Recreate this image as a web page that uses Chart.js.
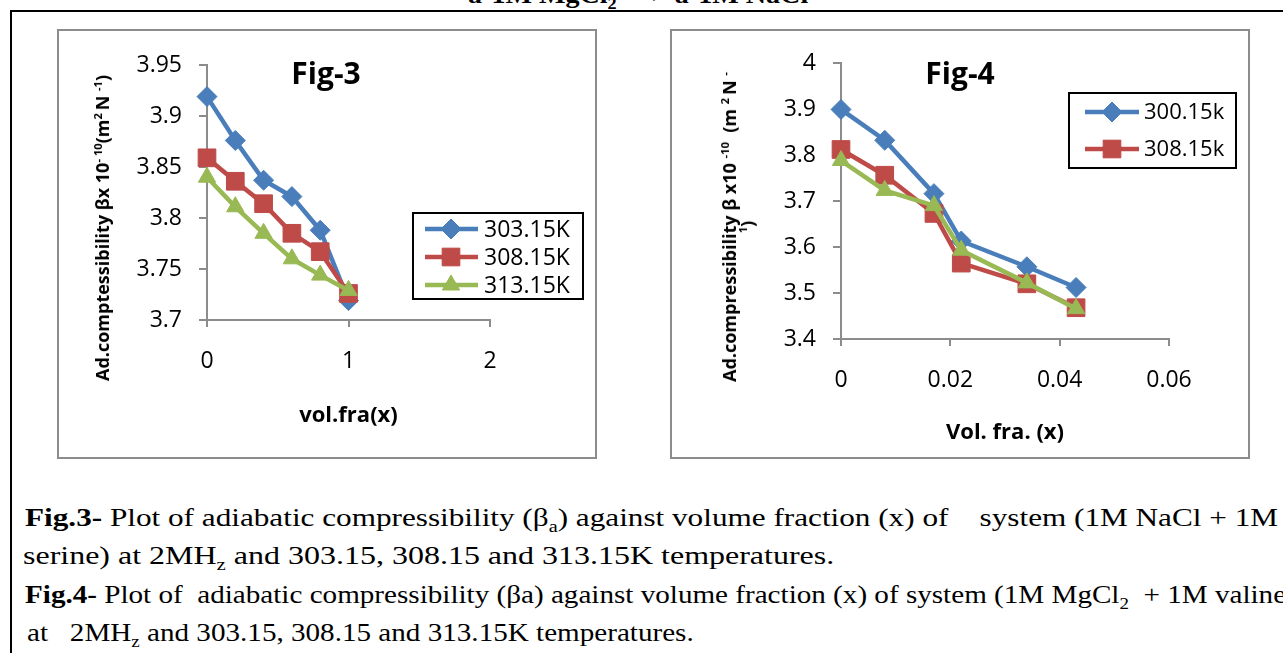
<!DOCTYPE html>
<html><head><meta charset="utf-8">
<script src="https://cdn.jsdelivr.net/npm/chart.js@4.4.1/dist/chart.umd.min.js"></script>
<style>
html,body{margin:0;padding:0;background:#fff;}
body{width:1283px;height:653px;overflow:hidden;position:relative;font-family:'Open Sans',sans-serif;}
.abs{position:absolute;}
#frame{left:10px;top:10px;width:1400px;height:700px;border-left:2px solid #000;border-top:2px solid #000;}
.box{border:2px solid #8c8c8c;box-sizing:border-box;}
#box3{left:57px;top:29px;width:540px;height:430px;}
#box4{left:670px;top:29px;width:580px;height:430px;}
#c3{left:59px;top:31px;}
#c4{left:672px;top:31px;}
.fig{font-family:'Open Sans';font-weight:bold;font-size:30px;line-height:30px;white-space:nowrap;transform:translateX(-50%);color:#000;z-index:3;}
.ytitle{font-family:'Open Sans';font-weight:bold;font-size:18px;line-height:18px;white-space:pre;text-align:center;transform:translate(-50%,-50%) rotate(-90deg);color:#000;z-index:3;}
.ytitle sup{font-size:0.62em;vertical-align:super;line-height:0;}
.cap{font-family:'Liberation Serif','Times New Roman',serif;font-size:26px;line-height:26px;white-space:pre;transform-origin:0 0;color:#000;}
.cap sub{font-size:0.65em;vertical-align:sub;line-height:0;}
</style>
</head>
<body>
<div id="frame" class="abs"></div>
<div class="abs cap" style="left:468px;top:-18px;font-weight:bold;transform:scaleX(1.08);">a-1M MgCl<sub>2</sub> —&gt; a-1M NaCl</div>
<div id="box3" class="abs box"></div>
<div id="box4" class="abs box"></div>
<canvas id="c3" class="abs" width="536" height="426"></canvas>
<canvas id="c4" class="abs" width="576" height="426"></canvas>
<div class="abs fig" style="left:326px;top:58px;">Fig-3</div>
<div class="abs fig" style="left:960px;top:58px;">Fig-4</div>
<div class="abs ytitle" style="left:102px;top:228px;">Ad.comptessibility βx 10<sup>- 10</sup>(m<sup>2 </sup>N <sup>-1</sup>)</div>
<div class="abs ytitle" style="left:738px;top:227px;">Ad.compressibility β x10 <sup>-10</sup>  (m <sup>2 </sup>N <sup>-</sup>
<sup>1</sup>)</div>
<div class="abs cap" style="left:25px;top:505px;transform:scaleX(1.2);"><b>Fig.3-</b> Plot of adiabatic compressibility (β<sub>a</sub>) against volume fraction (x) of    system (1M NaCl + 1M</div>
<div class="abs cap" style="left:23px;top:543px;transform:scaleX(1.23);">serine) at 2MH<sub>z</sub> and 303.15, 308.15 and 313.15K temperatures.</div>
<div class="abs cap" style="left:25px;top:582px;transform:scaleX(1.12);"><b>Fig.4-</b> Plot of  adiabatic compressibility (βa) against volume fraction (x) of system (1M MgCl<sub>2</sub>  + 1M valine)</div>
<div class="abs cap" style="left:27px;top:620px;transform:scaleX(1.12);">at   2MH<sub>z</sub> and 303.15, 308.15 and 313.15K temperatures.</div>

<script>
// ---------- Fig-3 data ----------
const volFrac3 = [0, 0.2, 0.4, 0.6, 0.8, 1];
const beta3_303 = [3.919, 3.876, 3.837, 3.821, 3.788, 3.719];
const beta3_308 = [3.859, 3.836, 3.814, 3.785, 3.767, 3.726];
const beta3_313 = [3.840, 3.811, 3.785, 3.760, 3.744, 3.729];
const labels3 = ['303.15K', '308.15K', '313.15K'];
const xTickVals3 = [0, 1, 2];
const xTickLabels3 = ['0', '1', '2'];
const yTickVals3 = [3.7, 3.75, 3.8, 3.85, 3.9, 3.95];
const yTickLabels3 = ['3.7', '3.75', '3.8', '3.85', '3.9', '3.95'];
const xTitle3 = 'vol.fra(x)';

// ---------- Fig-4 data ----------
const volFrac4 = [0, 0.008, 0.017, 0.022, 0.034, 0.043];
const beta4_300 = [3.899, 3.832, 3.716, 3.613, 3.557, 3.512];
const beta4_308 = [3.812, 3.756, 3.673, 3.565, 3.520, 3.468];
const beta4_313 = [3.788, 3.723, 3.690, 3.593, 3.522, 3.466];
const labels4 = ['300.15k', '308.15k', '313.15k'];
const xTickVals4 = [0, 0.02, 0.04, 0.06];
const xTickLabels4 = ['0', '0.02', '0.04', '0.06'];
const yTickVals4 = [3.4, 3.5, 3.6, 3.7, 3.8, 3.9, 4];
const yTickLabels4 = ['3.4', '3.5', '3.6', '3.7', '3.8', '3.9', '4'];
const xTitle4 = 'Vol. fra. (x)';

// ---------- styles ----------
const BLUE = '#4a7ebb', RED = '#be4b48', GREEN = '#98b954';
const AXIS = '#8c8c8c';
const FONT = "'Open Sans'";

function series(label, xs, ys, color, style, radius, order) {
  return {
    label, data: xs.map((x, i) => ({x, y: ys[i]})),
    borderColor: color, backgroundColor: color, borderWidth: 4.5,
    pointStyle: style, pointRadius: radius, pointHoverRadius: radius,
    pointBorderWidth: 1, pointBorderColor: color, pointBackgroundColor: color,
    tension: 0, order, clip: false, fill: false
  };
}

function drawMarker(ctx, style, x, y, r, color) {
  ctx.save();
  ctx.fillStyle = color; ctx.strokeStyle = color; ctx.lineWidth = 1;
  ctx.beginPath();
  if (style === 'rectRot') {
    ctx.moveTo(x - r, y); ctx.lineTo(x, y - r); ctx.lineTo(x + r, y); ctx.lineTo(x, y + r);
  } else if (style === 'rect') {
    const s = r * Math.SQRT1_2;
    ctx.rect(x - s, y - s, 2 * s, 2 * s);
  } else {
    for (let k = 0; k < 3; k++) {
      const a = -Math.PI / 2 + k * 2 * Math.PI / 3;
      const px = x + r * Math.cos(a), py = y + r * Math.sin(a);
      if (k === 0) ctx.moveTo(px, py); else ctx.lineTo(px, py);
    }
  }
  ctx.closePath(); ctx.fill(); ctx.stroke();
  ctx.restore();
}

function boxLegend(id, box, rows, lineX, markerX, textX, fontSize, count) {
  return {
    id,
    afterDatasetsDraw(chart) {
      const ctx = chart.ctx;
      ctx.save();
      ctx.fillStyle = '#fff';
      ctx.fillRect(box[0], box[1], box[2] - box[0], box[3] - box[1]);
      ctx.lineWidth = 2; ctx.strokeStyle = '#000';
      ctx.strokeRect(box[0], box[1], box[2] - box[0], box[3] - box[1]);
      chart.data.datasets.slice(0, count).forEach((d, i) => {
        const y = rows[i];
        ctx.strokeStyle = d.borderColor; ctx.lineWidth = d.borderWidth;
        ctx.beginPath(); ctx.moveTo(lineX[0], y); ctx.lineTo(lineX[1], y); ctx.stroke();
        drawMarker(ctx, d.pointStyle, markerX, y, d.pointRadius, d.backgroundColor);
        ctx.fillStyle = '#000'; ctx.font = fontSize + 'px ' + FONT;
        ctx.textAlign = 'left'; ctx.textBaseline = 'middle';
        ctx.fillText(d.label, textX, y + 1);
      });
      ctx.restore();
    }
  };
}

function axisCommon(tickVals, tickLabels, tickLen, pad) {
  return {
    type: 'linear',
    afterBuildTicks: s => { s.ticks = tickVals.map(v => ({value: v})); },
    ticks: {callback: (v, i) => tickLabels[i], font: {family: FONT, size: 23}, color: '#000',
            padding: pad, maxRotation: 0, autoSkip: false},
    grid: {drawOnChartArea: false, drawTicks: true, tickLength: tickLen, color: AXIS, lineWidth: 2},
    border: {display: true, color: AXIS, width: 2}
  };
}

function makeChart(canvasId, datasets, cfg) {
  const xs = Object.assign(axisCommon(cfg.xTickVals, cfg.xTickLabels, 7, 21), {
    min: cfg.xTickVals[0], max: cfg.xTickVals[cfg.xTickVals.length - 1],
    afterFit: s => { s.height = cfg.xAxisH; },
    title: {display: true, text: cfg.xTitle, color: '#000',
            font: {family: FONT, size: 22, weight: 'bold'}, padding: {top: 0, bottom: 0}}
  });
  const ys = Object.assign(axisCommon(cfg.yTickVals, cfg.yTickLabels, 8, 17), {
    min: cfg.yTickVals[0], max: cfg.yTickVals[cfg.yTickVals.length - 1],
    afterFit: s => { s.width = cfg.yAxisW; }
  });
  return new Chart(document.getElementById(canvasId), {
    type: 'line',
    data: {datasets},
    options: {
      responsive: false, animation: false, devicePixelRatio: 1,
      layout: {padding: cfg.padding},
      scales: {x: xs, y: ys},
      plugins: {legend: {display: false}, tooltip: {enabled: false}, title: {display: false}}
    },
    plugins: [cfg.legend]
  });
}

makeChart('c3', [
  series(labels3[0], volFrac3, beta3_303, BLUE, 'rectRot', 10, 2),
  series(labels3[1], volFrac3, beta3_308, RED, 'rect', 12.5, 1),
  series(labels3[2], volFrac3, beta3_313, GREEN, 'triangle', 10, 0)
], {
  xTickVals: xTickVals3, xTickLabels: xTickLabels3, yTickVals: yTickVals3, yTickLabels: yTickLabels3,
  xTitle: xTitle3, xAxisH: 109, yAxisW: 148,
  padding: {left: 0, top: 34, right: 105, bottom: 28},
  legend: boxLegend('legend3', [354, 182, 524, 268], [198, 226, 254], [366, 419], 392, 425, 23, 3)
});

makeChart('c4', [
  series(labels4[0], volFrac4, beta4_300, BLUE, 'rectRot', 10, 2),
  series(labels4[1], volFrac4, beta4_308, RED, 'rect', 12.5, 1),
  series(labels4[2], volFrac4, beta4_313, GREEN, 'triangle', 10, 0)
], {
  xTickVals: xTickVals4, xTickLabels: xTickLabels4, yTickVals: yTickVals4, yTickLabels: yTickLabels4,
  xTitle: xTitle4, xAxisH: 107, yAxisW: 169,
  padding: {left: 0, top: 32, right: 79, bottom: 11},
  legend: boxLegend('legend4', [397, 62, 564, 137], [81, 118], [413, 467], 440, 472, 22, 2)
});
</script>
</body></html>
